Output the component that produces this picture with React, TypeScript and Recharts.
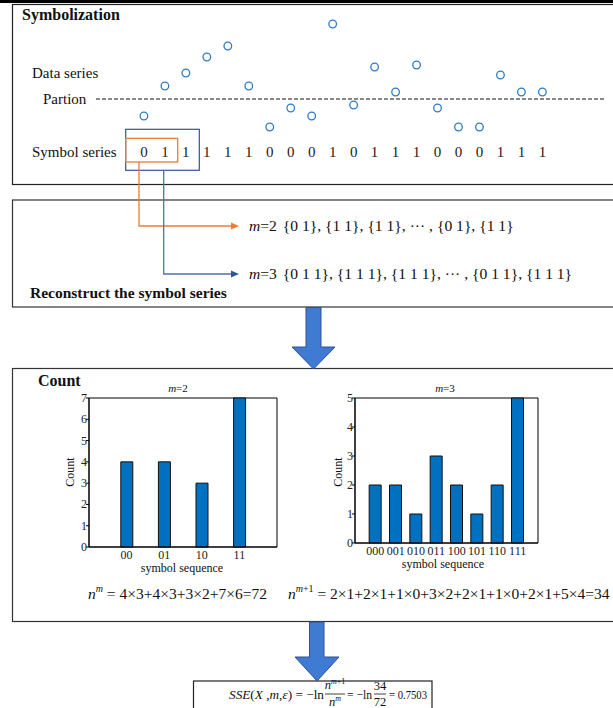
import React from "react";
import {
  ScatterChart,
  Scatter,
  BarChart,
  Bar,
  XAxis,
  YAxis,
  ReferenceLine,
  ReferenceArea,
} from "recharts";

// data series (partition at 0) and the symbols read under each point
const DATA_SERIES = [-1.7, 1.3, 2.6, 4.2, 5.3, 1.3, -2.8, -0.9, -1.7, 7.5, -0.6, 3.2, 0.7, 3.4, -0.9, -2.8, -2.8, 2.4, 0.7, 0.7];
const SYMBOLS = [0, 1, 1, 1, 1, 1, 0, 0, 0, 1, 0, 1, 1, 1, 0, 0, 0, 1, 1, 1];
const PARTITION = 0;

const M2_LABELS = ["00", "01", "10", "11"];
const M2_COUNTS = [4, 4, 3, 7];
const M2_YTICKS = [0, 1, 2, 3, 4, 5, 6, 7];

const M3_LABELS = ["000", "001", "010", "011", "100", "101", "110", "111"];
const M3_COUNTS = [2, 2, 1, 3, 2, 1, 2, 5];
const M3_YTICKS = [0, 1, 2, 3, 4, 5];

const FONT = "'Liberation Serif', 'Times New Roman', serif";
const SYMBOL_ROW = -5.3;

const CircleMark = (p: any) => (
  <circle cx={p.cx} cy={p.cy} r={3.8} fill="#fff" stroke="#2E7CC4" strokeWidth={1.3} />
);

const SymbolMark = (p: any) => (
  <text x={p.cx} y={p.cy + 5} textAnchor="middle" fontSize={15} fontFamily={FONT} fill="#222">
    {p.payload.s}
  </text>
);

function YTick(props: any) {
  const { x, y, payload } = props;
  return (
    <g>
      <line x1={x - 3} x2={x} y1={y} y2={y} stroke="#000" />
      <text x={x - 2} y={y + 4} textAnchor="end" fontSize={12} fontFamily={FONT} fill="#222">
        {payload.value}
      </text>
    </g>
  );
}

const makeXTick = (labels: string[]) => (props: any) => {
  const { x, y, payload } = props;
  return (
    <text x={x} y={y + 12} textAnchor="middle" fontSize={12} fontFamily={FONT} fill="#222">
      {labels[payload.value - 1]}
    </text>
  );
};

function CountChart({ labels, counts, yTicks, left, top, width, height, margin }: any) {
  const data = labels.map((l: string, i: number) => ({ pos: i + 1, count: counts[i] }));
  const yMax = yTicks[yTicks.length - 1];
  return (
    <div style={{ position: "absolute", left, top }}>
      <BarChart width={width} height={height} data={data} margin={margin}>
        <XAxis
          type="number"
          dataKey="pos"
          domain={[0, labels.length + 1]}
          ticks={labels.map((_: string, i: number) => i + 1)}
          interval={0}
          tickSize={0}
          tickMargin={0}
          tick={makeXTick(labels)}
          stroke="#000"
          height={20}
        />
        <YAxis
          type="number"
          domain={[0, yMax]}
          ticks={yTicks}
          interval={0}
          tickSize={0}
          tickMargin={0}
          tick={<YTick />}
          stroke="#000"
          width={20}
        />
        <ReferenceArea x1={0} x2={labels.length + 1} y1={0} y2={yMax} fill="none" stroke="#000" strokeWidth={1} />
        <Bar dataKey="count" fill="#0070C0" stroke="#111" strokeWidth={1} barSize={12} isAnimationActive={false} />
      </BarChart>
    </div>
  );
}

const BigArrow = ({ x1, x2, hx1, hx2, top, neck, tip }: any) => (
  <polygon
    points={`${x1},${top} ${x2},${top} ${x2},${neck} ${hx2},${neck} ${(hx1 + hx2) / 2},${tip} ${hx1},${neck} ${x1},${neck}`}
    fill="#3F7BD3"
    stroke="#2F528F"
    strokeWidth={1}
  />
);

export default function App() {
  const points = DATA_SERIES.map((v, i) => ({ idx: i + 1, value: v }));
  const symbols = SYMBOLS.map((s, i) => ({ idx: i + 1, value: SYMBOL_ROW, s }));
  const txt = { fontFamily: FONT, fill: "#111" } as any;
  const fit = { lengthAdjust: "spacingAndGlyphs" } as any;

  return (
    <div style={{ position: "absolute", left: 0, top: 0, width: 613, height: 708, background: "#fff", overflow: "hidden" }}>
      <svg width={613} height={708} style={{ position: "absolute", left: 0, top: 0 }}>
        <rect x={0} y={0} width={613} height={3} fill="#000" />
        {/* boxes */}
        <rect x={12.5} y={4.5} width={620} height={180} fill="none" stroke="#222" strokeWidth={1.2} />
        <rect x={12.5} y={200} width={620} height={107} fill="none" stroke="#333" strokeWidth={1.2} />
        <rect x={12.5} y={368.5} width={620} height={253} fill="none" stroke="#333" strokeWidth={1.2} />
        <rect x={193.5} y={681} width={238.5} height={40} fill="none" stroke="#222" strokeWidth={1.2} />

        <text x={22} y={20} fontSize={16} fontWeight="bold" {...txt}>Symbolization</text>
        <text x={32} y={78} fontSize={15} {...txt}>Data series</text>
        <text x={43} y={104} fontSize={15} {...txt}>Partion</text>
        <text x={32} y={157} fontSize={15} {...txt}>Symbol series</text>

        {/* embedding windows */}
        <rect x={125.7} y={129.3} width={73.6} height={41} fill="none" stroke="#2F5597" strokeWidth={1.2} />
        <rect x={125.7} y={138.3} width={52} height={23.7} fill="none" stroke="#ED7D31" strokeWidth={1.3} />
        <polyline points="139,162 139,226 232,226" fill="none" stroke="#ED7D31" strokeWidth={1.3} />
        <polygon points="231,222.5 239,226 231,229.5" fill="#ED7D31" />
        <polyline points="163.7,170.3 163.7,274 232,274" fill="none" stroke="#4F72AE" strokeWidth={1.3} />
        <polygon points="231,270.5 239,274 231,277.5" fill="#2F5597" />

        <text x={249} y={231} fontSize={15.6} {...txt}>
          <tspan fontStyle="italic">m</tspan>=2
          <tspan dx={6}>{"{0 1}, {1 1}, {1 1}, \u00B7\u00B7\u00B7 , {0 1}, {1 1}"}</tspan>
        </text>
        <text x={249} y={279} fontSize={15.6} {...txt}>
          <tspan fontStyle="italic">m</tspan>=3
          <tspan dx={6}>{"{0 1 1}, {1 1 1}, {1 1 1}, \u00B7\u00B7\u00B7 , {0 1 1}, {1 1 1}"}</tspan>
        </text>
        <text x={30} y={298} fontSize={15.5} fontWeight="bold" {...txt}>Reconstruct the symbol series</text>

        <BigArrow x1={306} x2={321} hx1={292} hx2={335} top={307.5} neck={347} tip={369} />

        <text x={38} y={386} fontSize={16} fontWeight="bold" {...txt}>Count</text>

        {/* chart titles and labels */}
        <text x={178} y={392} fontSize={11} textAnchor="middle" {...txt}>
          <tspan fontStyle="italic">m</tspan>=2
        </text>
        <text x={445} y={392} fontSize={11} textAnchor="middle" {...txt}>
          <tspan fontStyle="italic">m</tspan>=3
        </text>
        <text x={0} y={0} fontSize={12} textAnchor="middle" transform="translate(74,472) rotate(-90)" {...txt}>Count</text>
        <text x={0} y={0} fontSize={12} textAnchor="middle" transform="translate(342,472) rotate(-90)" {...txt}>Count</text>
        <text x={182} y={572} fontSize={12} textAnchor="middle" {...txt}>symbol sequence</text>
        <text x={443} y={568} fontSize={12} textAnchor="middle" {...txt}>symbol sequence</text>

        {/* counting formulas */}
        <text x={88} y={599} fontSize={15.5} {...txt}>
          <tspan fontStyle="italic">n</tspan>
          <tspan fontSize={10} fontStyle="italic" dy={-7}>m</tspan>
          <tspan dy={7}>{" = 4\u00D73+4\u00D73+3\u00D72+7\u00D76=72"}</tspan>
        </text>
        <text x={288} y={599} fontSize={15.5} {...txt}>
          <tspan fontStyle="italic">n</tspan>
          <tspan fontSize={10} fontStyle="italic" dy={-7}>m</tspan>
          <tspan fontSize={10}>+1</tspan>
          <tspan dy={7}>{" = 2\u00D71+2\u00D71+1\u00D70+3\u00D72+2\u00D71+1\u00D70+2\u00D71+5\u00D74=34"}</tspan>
        </text>

        <BigArrow x1={309.5} x2={324} hx1={295} hx2={339} top={622} neck={657} tip={681} />

        {/* SSE formula */}
        <text x={229} y={699} fontSize={12.5} textLength={95} {...fit} {...txt}>
          <tspan fontStyle="italic">SSE</tspan>(<tspan fontStyle="italic">X</tspan> ,
          <tspan fontStyle="italic">m</tspan>,<tspan fontStyle="italic">{"\u03B5"}</tspan>){" = \u2212ln"}
        </text>
        <text x={335} y={689} fontSize={12.5} textAnchor="middle" {...txt}>
          <tspan fontStyle="italic">n</tspan>
          <tspan fontSize={8} fontStyle="italic" dy={-5}>m</tspan>
          <tspan fontSize={8}>+1</tspan>
        </text>
        <line x1={325} x2={345} y1={694} y2={694} stroke="#111" strokeWidth={0.8} />
        <text x={335} y={706} fontSize={12.5} textAnchor="middle" {...txt}>
          <tspan fontStyle="italic">n</tspan>
          <tspan fontSize={8} fontStyle="italic" dy={-5}>m</tspan>
        </text>
        <text x={347} y={699} fontSize={12.5} textLength={25} {...fit} {...txt}>{"= \u2212ln"}</text>
        <text x={380} y={690} fontSize={12.5} textAnchor="middle" {...txt}>34</text>
        <line x1={374} x2={386} y1={694} y2={694} stroke="#111" strokeWidth={0.8} />
        <text x={380} y={706} fontSize={12.5} textAnchor="middle" {...txt}>72</text>
        <text x={389} y={699} fontSize={12.5} textLength={38} {...fit} {...txt}>= 0.7503</text>
      </svg>

      <div style={{ position: "absolute", left: 96, top: 10 }}>
        <ScatterChart width={509} height={160} margin={{ top: 0, right: 0, bottom: 0, left: 0 }}>
          <XAxis type="number" dataKey="idx" domain={[-1.285, 22.985]} hide />
          <YAxis type="number" dataKey="value" domain={[-7.1, 8.9]} hide />
          <ReferenceLine y={PARTITION} stroke="#111" strokeWidth={1} strokeDasharray="4 2" />
          <Scatter data={points} shape={CircleMark} isAnimationActive={false} />
          <Scatter data={symbols} shape={SymbolMark} isAnimationActive={false} />
        </ScatterChart>
      </div>

      <CountChart
        labels={M2_LABELS}
        counts={M2_COUNTS}
        yTicks={M2_YTICKS}
        left={40}
        top={380}
        width={250}
        height={200}
        margin={{ top: 18, right: 13, bottom: 13, left: 29 }}
      />
      <CountChart
        labels={M3_LABELS}
        counts={M3_COUNTS}
        yTicks={M3_YTICKS}
        left={310}
        top={380}
        width={245}
        height={200}
        margin={{ top: 18, right: 17, bottom: 17, left: 25 }}
      />
    </div>
  );
}
